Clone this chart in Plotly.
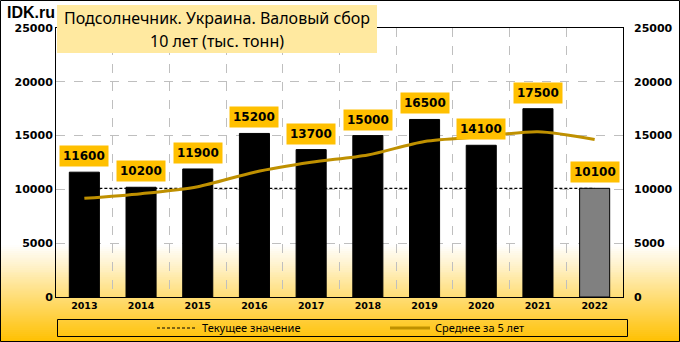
import plotly.graph_objects as go

years = ["2013", "2014", "2015", "2016", "2017", "2018", "2019", "2020", "2021", "2022"]
harvest = [11600, 10200, 11900, 15200, 13700, 15000, 16500, 14100, 17500, 10100]
avg5 = [9170, 9600, 10250, 11600, 12520, 13200, 14460, 14900, 15360, 14640]
current = [harvest[-1]] * len(years)

W, H = 680, 342
ML, MR, MT, MB = 56, 57, 28, 45
PW, PH = W - ML - MR, H - MT - MB


def px(x):
    return (x - ML) / PW


def py(y):
    return (H - MB - y) / PH


bar_colors = ["#000000"] * (len(years) - 1) + ["#808080"]

fig = go.Figure()
fig.add_trace(go.Scatter(
    x=years, y=current, mode="lines", name="Текущее значение",
    line=dict(color="black", width=1.2, dash="3px,2px"),
    xaxis="x", yaxis="y"))
fig.add_trace(go.Bar(
    x=years, y=harvest, marker=dict(color=bar_colors, line=dict(color="black", width=1)),
    width=0.53, showlegend=False, xaxis="x", yaxis="y2"))
fig.add_trace(go.Scatter(
    x=years, y=avg5, mode="lines", name="Среднее за 5 лет",
    line=dict(color="#BF9000", width=3, shape="spline", smoothing=0.8),
    xaxis="x", yaxis="y2"))

shapes = []
# gradient background
g0, g1 = 245, H
n = 48
for i in range(n):
    t = (i + 0.5) / n
    r, g, b = 255, round(255 - t * (255 - 192)), round(255 - t * 255)
    ya = g0 + (g1 - g0) * i / n
    yb = g0 + (g1 - g0) * (i + 1) / n + 0.6
    shapes.append(dict(type="rect", xref="paper", yref="paper", layer="below",
                       x0=px(0), x1=px(W), y0=py(yb), y1=py(ya),
                       fillcolor=f"rgb({r},{g},{b})", line=dict(width=0)))
# title box
shapes.append(dict(type="rect", xref="paper", yref="paper", layer="above",
                   x0=px(57), x1=px(377), y0=py(53), y1=py(5),
                   fillcolor="#FFE9A0", line=dict(width=0)))
# legend frame
shapes.append(dict(type="rect", xref="paper", yref="paper", layer="above",
                   x0=px(57.5), x1=px(627.5), y0=py(336.5), y1=py(319.5),
                   fillcolor="rgba(0,0,0,0)", line=dict(color="black", width=1)))
# outer border
shapes.append(dict(type="rect", xref="paper", yref="paper", layer="above",
                   x0=px(0.5), x1=px(W - 0.5), y0=py(H - 0.5), y1=py(0.5),
                   fillcolor="rgba(0,0,0,0)", line=dict(color="black", width=1)))

annotations = []
for i, v in enumerate(harvest):
    annotations.append(dict(x=i, y=v, xref="x", yref="y2", text=f"<b>{v}</b>",
                            showarrow=False, yanchor="bottom", yshift=5,
                            bgcolor="#FFC000", borderpad=3,
                            font=dict(family="DejaVu Sans", size=12, color="black")))
annotations.append(dict(x=px(5), y=py(12), xref="paper", yref="paper", xanchor="left",
                        yanchor="middle", text="<b>IDK.ru</b>", showarrow=False,
                        font=dict(family="Liberation Sans", size=16, color="black")))
annotations.append(dict(x=px(217), y=py(18), xref="paper", yref="paper",
                        xanchor="center", yanchor="middle",
                        text="Подсолнечник. Украина. Валовый сбор", showarrow=False,
                        font=dict(family="Noto Sans", size=16, color="black")))
annotations.append(dict(x=px(217), y=py(41), xref="paper", yref="paper",
                        xanchor="center", yanchor="middle",
                        text="10 лет (тыс. тонн)", showarrow=False,
                        font=dict(family="Noto Sans", size=16, color="black")))

tickfont = dict(family="DejaVu Sans", size=11, color="black", weight="bold")
fig.update_layout(
    width=W, height=H, margin=dict(l=ML, r=MR, t=MT, b=MB, autoexpand=False),
    paper_bgcolor="white", plot_bgcolor="rgba(0,0,0,0)",
    shapes=shapes, annotations=annotations,
    xaxis=dict(type="category", tickson="boundaries", showgrid=True, gridcolor="#BFBFBF",
               griddash="dash", gridwidth=1, showline=True, mirror=True, linecolor="black",
               linewidth=1, ticks="", tickfont=dict(family="DejaVu Sans", size=9.5, color="black", weight="bold")),
    yaxis=dict(range=[0, 25000], dtick=5000, tickformat="d", showgrid=True, gridcolor="#BFBFBF",
               griddash="dash", zeroline=False, showline=True, mirror=True, linecolor="black",
               ticks="", tickfont=tickfont),
    yaxis2=dict(range=[0, 25000], dtick=5000, tickformat="d", overlaying="y", side="right",
                showgrid=False, zeroline=False, showline=False, ticks="", tickfont=tickfont,
                ticklabelstandoff=10),
    legend=dict(orientation="h", x=px(152), xanchor="left", y=py(328), yanchor="middle",
                bgcolor="rgba(0,0,0,0)", entrywidth=178, itemwidth=40,
                font=dict(family="Liberation Sans Narrow, Noto Sans", size=11, color="black")),
    bargap=0.47,
)

fig.write_html("out.html")
